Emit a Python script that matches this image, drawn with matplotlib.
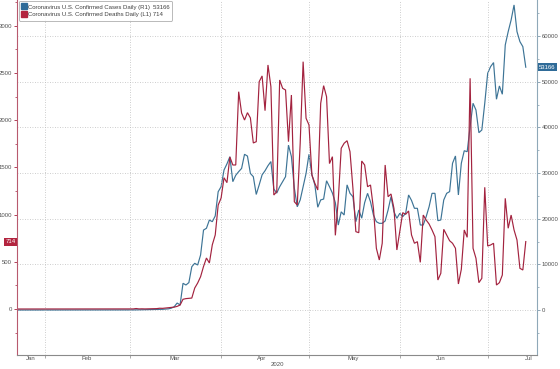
import matplotlib
matplotlib.use("Agg")
import matplotlib.pyplot as plt
import matplotlib.transforms as mtransforms
from matplotlib.lines import Line2D
import pandas as pd

plt.rcParams['font.family'] = ['Liberation Sans', 'DejaVu Sans']

start_date = "2020-01-22"

cases = [
    0, 0, 1, 0, 2, 0, 0, 0, 0, 0,
    1, 2, 0, 0, 1, 0, 0, 0, 0, 0,
    0, 1, 0, 0, 0, 0, 0, 0, 0, 0,
    2, 14, 0, 0, 0, 0, 1, 3, 6,
    15, 20, 25, 40, 55, 70, 90, 110, 120, 140, 160,
    150, 200, 250, 400, 720, 1530, 1100, 5850, 5475, 6000,
    9480, 10230, 9850, 12050, 17500, 17900, 19700, 19340, 20600, 25900,
    27000, 30660, 32000, 33570, 28100, 29500, 30300, 31000, 34100, 33700,
    29900, 29200, 25300, 27400, 29600, 30500, 31600, 32500, 26500, 25600,
    27000, 28100, 29200, 36100, 33600, 26700, 22600, 24100, 27000, 29900,
    34100, 29600, 27400, 22500, 24100, 24300, 28300, 27000, 25600, 23500,
    18600, 21500, 20800, 27400, 25550, 24800, 19340, 21900, 20100, 23500,
    25550, 23700, 20800, 19340, 18980, 18980, 19500, 21900, 24820, 21540,
    20080, 21170, 20440, 21170, 25190, 24000, 22270, 22270, 18610, 18610,
    20430, 22620, 25550, 25550, 19560, 19710, 24090, 25550, 25920, 32130,
    33730, 25190, 32130, 34880, 34660, 40150, 45270, 43800, 38830, 39420,
    45270, 51840, 53300, 54180, 46150, 49060, 47240, 58040, 60960, 63510,
    66800, 60960, 58770, 57670, 53166,
]

deaths = [
    0, 0, 0, 0, 0, 0, 0, 0, 0, 0,
    0, 0, 0, 0, 0, 0, 0, 0, 0, 0,
    0, 0, 0, 0, 0, 0, 0, 0, 0, 0,
    0, 0, 0, 0, 0, 0, 0, 0, 1,
    0, 1, 5, 1, 2, 1, 2, 3, 4, 4, 8,
    7, 10, 12, 15, 20, 28, 42, 103, 110, 113,
    116, 222, 275, 342, 450, 540, 487, 680, 784, 1100,
    1175, 1390, 1338, 1610, 1525, 1525, 2301, 2075, 2001, 2079,
    2023, 1758, 1772, 2407, 2468, 2100, 2584, 2354, 1207, 1242,
    2425, 2337, 2319, 1772, 2266, 1136, 1101, 1755, 2619, 2020,
    1949, 1419, 1331, 1260, 2178, 2365, 2248, 1540, 1613, 780,
    1154, 1702, 1755, 1782, 1666, 1278, 819, 808, 1567, 1525,
    1295, 1313, 1066, 643, 519, 696, 1525, 1189, 1218, 1066,
    625, 819, 1020, 1003, 1038, 784, 696, 713, 494, 995,
    942, 900, 837, 766, 307, 378, 844, 784, 723, 696,
    643, 265, 420, 837, 759, 2443, 643, 537, 279, 325,
    1289, 667, 678, 696, 254, 279, 360, 1172, 855, 995,
    837, 731, 431, 413, 714,
]

month_starts = ["2020-02-01", "2020-03-01", "2020-04-01", "2020-05-01", "2020-06-01", "2020-07-01"]
month_label_dates = ["2020-01-27", "2020-02-15", "2020-03-16", "2020-04-15", "2020-05-16", "2020-06-15", "2020-07-15"]
month_labels = ["Jan", "Feb", "Mar", "Apr", "May", "Jun", "Jul"]
year_label = "2020"

left_ticks = [0, 500, 1000, 1500, 2000, 2500, 3000]
right_ticks = [0, 10000, 20000, 30000, 40000, 50000, 60000]

cases_label = "Coronavirus U.S. Confirmed Cases Daily (R1)  53166"
deaths_label = "Coronavirus U.S. Confirmed Deaths Daily (L1) 714"

dates = pd.date_range(start_date, periods=len(cases), freq="D")

BLUE = "#3d7496"
RED = "#a3233f"
GRID = "#bdbdbd"
TXT = "#505050"
FS = 4.3

fig = plt.figure(figsize=(5.6, 3.69), dpi=100)
ax = fig.add_axes([17/560, 14/369, 520/560, 355/369])
ax2 = ax.twinx()
ax.set_zorder(ax2.get_zorder() + 1)
ax.patch.set_visible(False)

ax2.plot(dates, cases, color=BLUE, lw=0.85, solid_joinstyle="miter")
ax.plot(dates, deaths, color=RED, lw=0.85, solid_joinstyle="miter")

ax.set_xlim(pd.Timestamp("2020-01-22 08:00"), pd.Timestamp("2020-07-17 20:00"))
ax.set_ylim(-487, 3272)
ax2.set_ylim(-9853, 67883)

# y ticks
ax.set_yticks(left_ticks)
ax.set_yticks([v + 250 for v in left_ticks[:-1]] + [-250, 3250], minor=True)
ax2.set_yticks(right_ticks)
ax2.set_yticks([v + 5000 for v in right_ticks[:-1]] + [-5000, 65000], minor=True)
ax2.yaxis.set_major_formatter(matplotlib.ticker.FuncFormatter(lambda v, p: f"{int(v)}"))

# x ticks
ax.set_xticks(pd.to_datetime(month_starts))
ax.set_xticklabels([])
ax.set_xticks(pd.to_datetime(month_label_dates), minor=True)
ax.set_xticklabels(month_labels, minor=True)
ax.tick_params(axis="x", which="major", length=2, width=0.5, color="#888888")
ax.tick_params(axis="x", which="minor", length=0, labelsize=FS, labelcolor=TXT, pad=1)

ax.tick_params(axis="y", which="major", length=2.5, width=0.6, color=RED, labelsize=FS, labelcolor=TXT, pad=1)
ax.tick_params(axis="y", which="minor", length=1.5, width=0.5, color=RED)
ax2.tick_params(axis="y", which="major", length=2.5, width=0.6, color="#7f98aa", labelsize=FS, labelcolor=TXT, pad=1)
ax2.tick_params(axis="y", which="minor", length=1.5, width=0.5, color="#7f98aa")

# grids
ax2.yaxis.grid(True, which="major", linestyle=(0, (1, 2)), color=GRID, lw=0.6)
ax.xaxis.grid(True, which="major", linestyle=(0, (1, 2)), color=GRID, lw=0.6)
ax.yaxis.grid(False)

# spines
for s in ["top", "right"]:
    ax.spines[s].set_visible(False)
for s in ["top", "left", "bottom"]:
    ax2.spines[s].set_visible(False)
ax.spines["left"].set_color("#b85a6e")
ax.spines["left"].set_linewidth(0.8)
ax.spines["bottom"].set_color("#8a8a8a")
ax.spines["bottom"].set_linewidth(0.8)
ax2.spines["right"].set_color("#8fa8b8")
ax2.spines["right"].set_linewidth(0.8)

# year label
ax.text(0.5, -0.021, year_label, transform=ax.transAxes, ha="center", va="top",
        fontsize=FS, color=TXT)

# last value labels
trl = mtransforms.blended_transform_factory(ax.transAxes, ax.transData)
ax.text(-0.003, deaths[-1], f"{deaths[-1]}", transform=trl, ha="right", va="center",
        fontsize=FS, color="white", clip_on=False,
        bbox=dict(boxstyle="square,pad=0.25", fc="#b3243f", ec="none"))
trr = mtransforms.blended_transform_factory(ax2.transAxes, ax2.transData)
ax2.text(1.004, cases[-1], f"{cases[-1]}", transform=trr, ha="left", va="center",
         fontsize=FS, color="white", clip_on=False,
         bbox=dict(boxstyle="square,pad=0.25", fc="#2f6b98", ec="none"))

# legend
handles = [
    Line2D([], [], marker="s", linestyle="none", markersize=3.8, markerfacecolor="#2f6b98", markeredgecolor="#2f6b98"),
    Line2D([], [], marker="s", linestyle="none", markersize=3.8, markerfacecolor="#b3243f", markeredgecolor="#b3243f"),
]
leg = ax.legend(handles, [cases_label, deaths_label], loc="upper left",
                bbox_to_anchor=(0.003, 0.997), fontsize=FS, frameon=True, fancybox=True,
                handlelength=0.6, handletextpad=0.35, borderpad=0.55, labelspacing=0.45,
                borderaxespad=0.0)
leg.get_frame().set_edgecolor("#9a9a9a")
leg.get_frame().set_linewidth(0.6)
for t in leg.get_texts():
    t.set_color("#404040")

fig.savefig("out.png", dpi=100)
